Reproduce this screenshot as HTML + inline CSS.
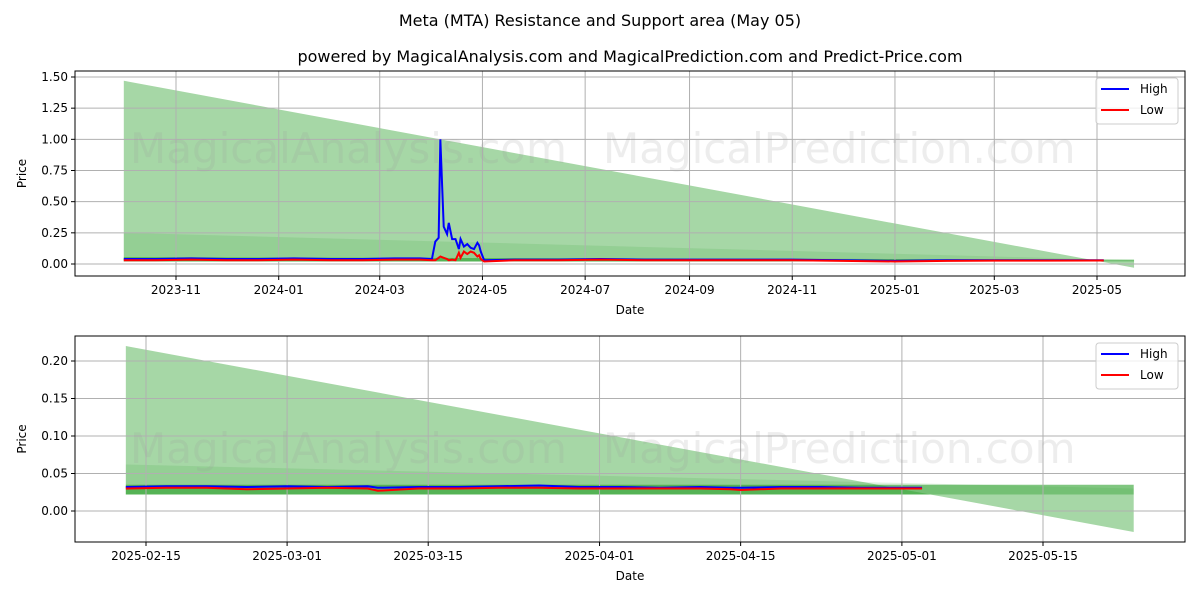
<!DOCTYPE html>
<html><head><meta charset="utf-8"><style>
body{margin:0;background:#fff;font-family:"Liberation Sans","DejaVu Sans",sans-serif}
svg text{font-family:"DejaVu Sans","Liberation Sans",sans-serif}
</style></head><body>
<svg id="c" width="1200" height="600" xmlns="http://www.w3.org/2000/svg">
<text x="600" y="26" font-size="16" text-anchor="middle">Meta (MTA) Resistance and Support area (May 05)</text>
</svg>
<script>
// ---- top chart data ----
const topDates = ["2023-10-01","2023-10-20","2023-11-10","2023-12-01","2023-12-20","2024-01-10","2024-02-01","2024-02-20","2024-03-10","2024-03-25","2024-04-01","2024-04-03","2024-04-05","2024-04-06","2024-04-08","2024-04-10","2024-04-11","2024-04-13","2024-04-15","2024-04-17","2024-04-18","2024-04-20","2024-04-22","2024-04-24","2024-04-26","2024-04-28","2024-04-29","2024-04-30","2024-05-02","2024-05-20","2024-06-15","2024-07-10","2024-08-05","2024-09-01","2024-10-01","2024-11-01","2024-12-01","2025-01-01","2025-02-01","2025-03-01","2025-04-01","2025-05-05"];
const topHigh = [0.04,0.04,0.045,0.04,0.04,0.045,0.04,0.04,0.045,0.045,0.04,0.18,0.21,1.0,0.3,0.24,0.33,0.2,0.2,0.12,0.2,0.14,0.16,0.13,0.12,0.17,0.15,0.1,0.03,0.035,0.035,0.04,0.035,0.035,0.035,0.035,0.03,0.025,0.03,0.03,0.03,0.03];
const topLow = [0.03,0.03,0.035,0.03,0.03,0.035,0.03,0.03,0.035,0.035,0.03,0.03,0.05,0.06,0.05,0.04,0.03,0.035,0.03,0.09,0.05,0.1,0.08,0.1,0.09,0.06,0.07,0.04,0.02,0.03,0.03,0.035,0.03,0.03,0.03,0.03,0.025,0.02,0.025,0.027,0.027,0.028];
const topTicks = ["2023-11","2024-01","2024-03","2024-05","2024-07","2024-09","2024-11","2025-01","2025-03","2025-05"];
const topYTicks = [0,0.25,0.5,0.75,1.0,1.25,1.5];
// ---- bottom chart data ----
const botDates = ["2025-02-13","2025-02-17","2025-02-21","2025-02-25","2025-03-01","2025-03-05","2025-03-09","2025-03-10","2025-03-14","2025-03-18","2025-03-22","2025-03-26","2025-03-30","2025-04-03","2025-04-07","2025-04-11","2025-04-14","2025-04-15","2025-04-19","2025-04-23","2025-04-27","2025-05-03"];
const botHigh = [0.032,0.033,0.033,0.032,0.033,0.032,0.033,0.031,0.032,0.032,0.033,0.034,0.032,0.032,0.031,0.032,0.031,0.031,0.032,0.032,0.031,0.031];
const botLow = [0.030,0.031,0.031,0.029,0.030,0.031,0.030,0.027,0.030,0.030,0.031,0.031,0.030,0.030,0.030,0.030,0.029,0.028,0.030,0.030,0.030,0.030];
const botTicks = ["2025-02-15","2025-03-01","2025-03-15","2025-04-01","2025-04-15","2025-05-01","2025-05-15"];
const botYTicks = [0,0.05,0.1,0.15,0.2];
// zone values: [start, end]
const topZoneOuter=[1.47,-0.03], topZoneMid=[0.25,0.03], topZoneInner=[[0.02,0.055],[0.02,0.035]];
const botZoneOuter=[0.22,-0.028], botZoneMid=[0.062,0.030], botZoneInner=[[0.022,0.035],[0.022,0.035]];

const NS="http://www.w3.org/2000/svg", svg=document.getElementById('c');
function el(t,a,p){const e=document.createElementNS(NS,t);for(const k in a)e.setAttribute(k,a[k]);(p||svg).appendChild(e);return e;}
const day=s=>Date.parse(s.length==7?s+"-01":s)/864e5;

function chart(o){
  const g=el('g',{});
  
  
  const X=d=>o.x0+(day(d)-day(o.d0))*o.ppd;
  const Y=v=>o.y0-(v-o.v0)*o.ppv;
  const xs=X(o.zs), xe=X(o.ze);
  const poly=(a,b,f,op,n)=>{const p=el('polygon',{points:`${xs},${Y(a[0])} ${xe},${Y(a[1])} ${xe},${Y(b[1])} ${xs},${Y(b[0])}`,fill:f,'fill-opacity':op},g);
    
    };
  poly(o.outer,[o.inner[0][0],o.inner[1][0]],'#2ca02c',0.42,'resistance-area');
  poly(o.mid,[o.inner[0][0],o.inner[1][0]],'#2ca02c',0.15,'mid-area');
  poly([o.inner[0][1],o.inner[1][1]],[o.inner[0][0],o.inner[1][0]],'#2ca02c',0.6,'support-area');
  o.xt.forEach(t=>{const x=X(t);el('line',{x1:x,x2:x,y1:o.top,y2:o.bot,stroke:'#b0b0b0','stroke-width':1},g);
    el('line',{x1:x,x2:x,y1:o.bot,y2:o.bot+4,stroke:'#000'},g);
    const tx=el('text',{x:x,y:o.bot+18,'font-size':12,'text-anchor':'middle'},g);tx.textContent=t;
    
    });
  o.yt.forEach(t=>{const y=Y(t);el('line',{x1:o.left,x2:o.right,y1:y,y2:y,stroke:'#b0b0b0'},g);
    el('line',{x1:o.left-4,x2:o.left,y1:y,y2:y,stroke:'#000'},g);
    const tx=el('text',{x:o.left-7,y:y+4,'font-size':12,'text-anchor':'end'},g);tx.textContent=t.toFixed(2);
    
    });
  const wm=(t,x)=>{const w=el('text',{x:x,y:o.wmY,'font-size':42,fill:'#999','fill-opacity':0.18},g);w.textContent=t;};
  wm('MagicalAnalysis.com',130);wm('MagicalPrediction.com',603);
  const line=(d,v,c,n)=>{const p=el('polyline',{points:d.map((s,i)=>X(s)+','+Y(v[i])).join(' '),fill:'none',stroke:c,'stroke-width':2},g);
    
    };
  line(o.dates,o.hi,'#0000ff','high-line');line(o.dates,o.lo,'#ff0000','low-line');
  el('rect',{x:o.left,y:o.top,width:o.right-o.left,height:o.bot-o.top,fill:'none',stroke:'#000'},g);
  const xl=el('text',{x:(o.left+o.right)/2,y:o.bot+38,'font-size':12,'text-anchor':'middle'},g);xl.textContent='Date';
  
  
  const yl=el('text',{x:0,y:0,'font-size':12,'text-anchor':'middle',transform:`translate(26,${(o.top+o.bot)/2}) rotate(-90)`},g);yl.textContent='Price';
  
  
  const lg=el('g',{},g);
  
  
  el('rect',{x:o.right-89,y:o.top+7,width:82,height:46,rx:3,fill:'#fff','fill-opacity':0.8,stroke:'#ccc'},lg);
  [['High','#0000ff'],['Low','#ff0000']].forEach((e,i)=>{const y=o.top+18+i*21;
    el('line',{x1:o.right-84,x2:o.right-56,y1:y,y2:y,stroke:e[1],'stroke-width':2},lg);
    const t=el('text',{x:o.right-45,y:y+4,'font-size':12},lg);t.textContent=e[0];});
}
const st=el('text',{x:630,y:62,'font-size':16,'text-anchor':'middle'});st.textContent='powered by MagicalAnalysis.com and MagicalPrediction.com and Predict-Price.com';


chart({name:'top-chart',left:75,right:1185,top:71,bot:276,x0:176,d0:"2023-11-01",ppd:921/547,y0:264,v0:0,ppv:187/1.5,
 zs:"2023-10-01",ze:"2025-05-23",outer:topZoneOuter,mid:topZoneMid,inner:topZoneInner,xt:topTicks,yt:topYTicks,
 dates:topDates,hi:topHigh,lo:topLow,wmY:163});
chart({name:'bottom-chart',left:75,right:1185,top:336,bot:542,x0:146,d0:"2025-02-15",ppd:897/89,y0:511,v0:0,ppv:150/0.2,
 zs:"2025-02-13",ze:"2025-05-24",outer:botZoneOuter,mid:botZoneMid,inner:botZoneInner,xt:botTicks,yt:botYTicks,
 dates:botDates,hi:botHigh,lo:botLow,wmY:463});
</script>
</body></html>
